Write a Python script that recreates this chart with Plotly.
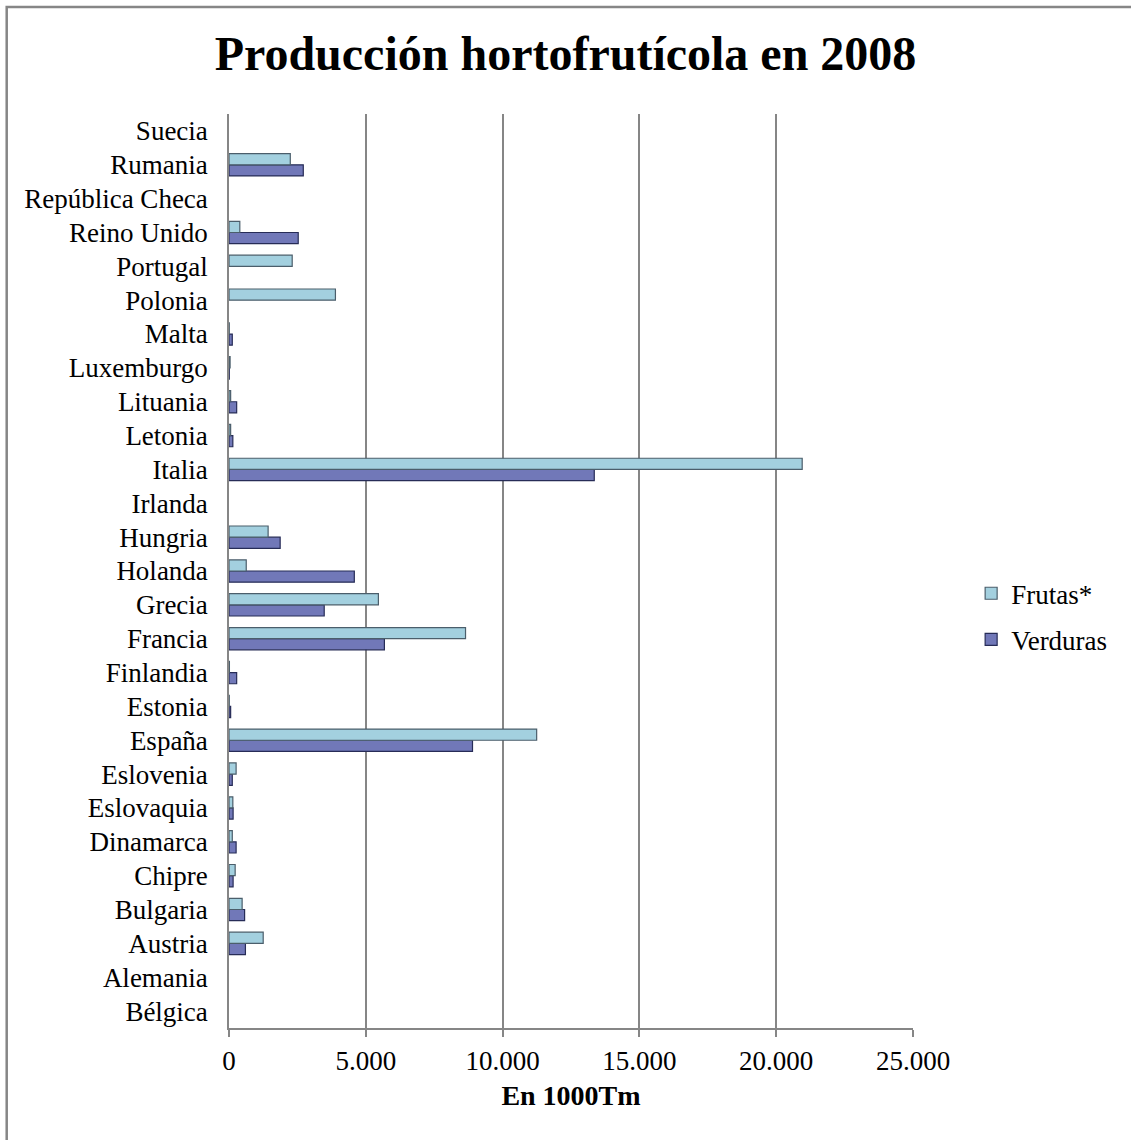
import plotly.graph_objects as go

paises = ["Bélgica", "Alemania", "Austria", "Bulgaria", "Chipre", "Dinamarca",
          "Eslovaquia", "Eslovenia", "España", "Estonia", "Finlandia", "Francia",
          "Grecia", "Holanda", "Hungria", "Irlanda", "Italia", "Letonia",
          "Lituania", "Luxemburgo", "Malta", "Polonia", "Portugal", "Reino Unido",
          "República Checa", "Rumania", "Suecia"]

verduras = [0, 0, 600, 570, 150, 260, 150, 120, 8900, 60, 280, 5680, 3480, 4580,
            1870, 0, 13350, 140, 280, 10, 120, 0, 0, 2530, 0, 2715, 0]

frutas = [0, 0, 1250, 480, 225, 120, 140, 260, 11245, 10, 15, 8645, 5460, 630,
          1430, 0, 20950, 60, 60, 40, 10, 3890, 2310, 395, 0, 2240, 0]

x_ticks = [0, 5000, 10000, 15000, 20000, 25000]

FONT = "Liberation Serif, Times New Roman, serif"


def nz(vals):
    return [v if v else None for v in vals]


fig = go.Figure()
fig.add_trace(go.Bar(
    y=paises, x=nz(verduras), orientation="h", name="Verduras",
    legendgroup="v", legendrank=2,
    marker=dict(color="#7178b8", line=dict(color="#272c57", width=1.2)),
))
fig.add_trace(go.Bar(
    y=paises, x=nz(frutas), orientation="h", name="Frutas*",
    legendgroup="f", legendrank=1,
    marker=dict(color="#a3d0df", line=dict(color="#4b5e6b", width=1.2)),
))

fig.update_layout(
    width=1131, height=1140,
    margin=dict(l=229, r=218, t=114, b=112),
    paper_bgcolor="white", plot_bgcolor="white",
    barmode="group", bargap=0.34, bargroupgap=0.0,
    separators=",.",
    font=dict(family=FONT, size=27, color="black"),
    title=dict(text="<b>Producción hortofrutícola en 2008</b>",
               font=dict(family=FONT, size=48, color="black"),
               x=0.5, xanchor="center", y=0.953, yanchor="middle"),
    legend=dict(x=1.085, xanchor="left", y=0.45, yanchor="middle",
                traceorder="grouped", tracegroupgap=8,
                font=dict(family=FONT, size=27, color="black"),
                itemwidth=30),
    showlegend=True,
)

fig.update_xaxes(
    range=[0, 25000], tickvals=x_ticks, tickformat=",d",
    showgrid=True, gridcolor="#868686", gridwidth=1.5,
    showline=True, linecolor="#868686", linewidth=1.5,
    ticks="outside", ticklen=7, tickcolor="#868686", tickwidth=1.5,
    ticklabelstandoff=1,
    zeroline=False,
    title=dict(text="<b>En 1000Tm</b>", font=dict(family=FONT, size=28, color="black"),
               standoff=10),
    tickfont=dict(family=FONT, size=27, color="black"),
)
fig.update_yaxes(
    categoryorder="array", categoryarray=paises,
    showgrid=False, showline=True, linecolor="#868686", linewidth=1.5,
    ticks="", ticklabelstandoff=14,
    tickfont=dict(family=FONT, size=27, color="black"),
)

fig.add_shape(type="rect", xref="paper", yref="paper",
              x0=-0.325, x1=1.4, y0=-0.25, y1=1.117,
              line=dict(color="#868686", width=2.5), layer="below")

fig.write_html("out.html")
